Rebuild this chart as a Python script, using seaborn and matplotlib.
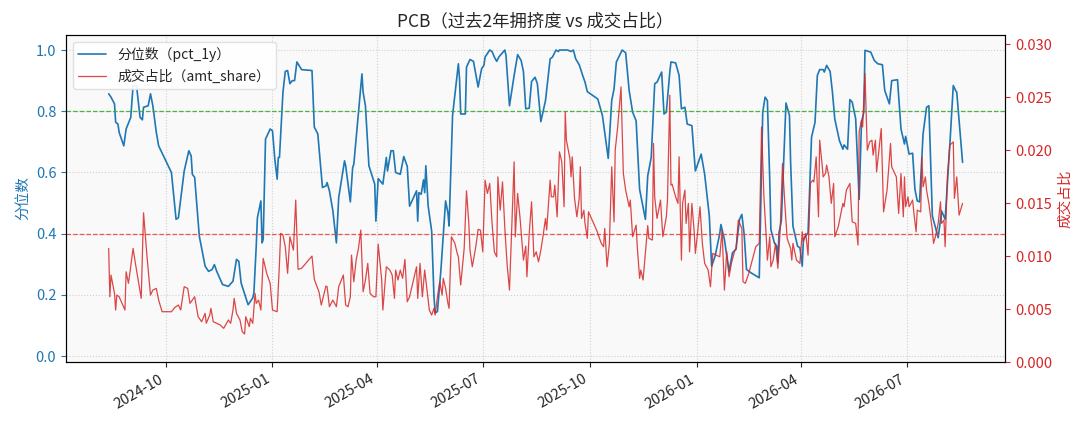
import matplotlib
matplotlib.use("Agg")
import matplotlib.pyplot as plt
import matplotlib.dates as mdates
import pandas as pd
import seaborn as sns

# days since 2024-08-13 for each reading
start_date = "2024-08-13"

pct_day = [0, 2, 5, 6, 8, 9, 13, 15, 19, 21, 24, 27, 29, 30, 34, 36, 38, 41, 43, 54,
           58, 60, 65, 69, 71, 72, 74, 78, 83, 86, 89, 91, 93, 98, 103, 107, 110, 112, 114, 119,
           120, 124, 125, 127, 128, 131, 132, 133, 135, 139, 141, 143, 145, 146, 147, 150, 152, 154, 156, 158,
           160, 162, 163, 166, 175, 177, 180, 184, 187, 188, 190, 193, 196, 198, 203, 204, 208, 210, 211, 218,
           219, 221, 224, 229, 230, 232, 236, 239, 240, 243, 245, 247, 251, 254, 257, 259, 265, 266, 267, 269,
           271, 272, 273, 275, 278, 280, 281, 283, 286, 290, 292, 293, 296, 301, 302, 303, 307, 308, 311, 314,
           318, 321, 323, 324, 328, 330, 332, 334, 336, 341, 342, 345, 349, 352, 355, 357, 359, 362, 364, 367,
           369, 372, 376, 380, 382, 385, 387, 388, 395, 398, 400, 402, 405, 408, 410, 412, 421, 425, 430, 433,
           435, 437, 442, 445, 448, 451, 454, 457, 462, 464, 467, 470, 472, 476, 478, 480, 483, 484, 488, 491,
           493, 496, 498, 502, 505, 510, 513, 517, 519, 522, 526, 527, 530, 534, 537, 540, 543, 545, 547, 549,
           553, 560, 563, 565, 567, 569, 570, 573, 575, 576, 577, 579, 581, 583, 586, 587, 589, 593, 595, 597,
           598, 602, 605, 608, 610, 612, 615, 616, 618, 621, 623, 625, 629, 632, 633, 636, 638, 640, 643, 646,
           648, 650, 651, 656, 659, 662, 666, 668, 672, 674, 679, 682, 685, 686, 689, 692, 694, 696, 698, 701,
           704, 706, 709, 714, 717, 720, 724, 727, 729, 730, 735]
pct_1y = [0.857, 0.846, 0.824, 0.764, 0.758, 0.731, 0.687, 0.742, 0.780, 0.884, 0.882, 0.780, 0.772, 0.813, 0.818, 0.857, 0.818, 0.731, 0.687, 0.600,
          0.447, 0.452, 0.605, 0.671, 0.654, 0.594, 0.584, 0.392, 0.294, 0.277, 0.283, 0.299, 0.277, 0.234, 0.228, 0.245, 0.316, 0.310, 0.239, 0.179,
          0.168, 0.190, 0.207, 0.359, 0.452, 0.507, 0.370, 0.381, 0.709, 0.742, 0.736, 0.644, 0.578, 0.649, 0.649, 0.862, 0.930, 0.933, 0.890, 0.900,
          0.900, 0.961, 0.955, 0.936, 0.933, 0.748, 0.726, 0.551, 0.556, 0.567, 0.540, 0.474, 0.370, 0.518, 0.638, 0.622, 0.504, 0.616, 0.627, 0.922,
          0.862, 0.818, 0.622, 0.562, 0.441, 0.580, 0.562, 0.649, 0.605, 0.671, 0.671, 0.600, 0.594, 0.652, 0.620, 0.490, 0.540, 0.441, 0.534, 0.529,
          0.576, 0.534, 0.622, 0.490, 0.409, 0.195, 0.141, 0.146, 0.283, 0.507, 0.469, 0.425, 0.786, 0.955, 0.906, 0.791, 0.791, 0.944, 0.969, 0.963,
          0.879, 0.939, 0.950, 0.977, 1.000, 0.995, 0.977, 0.963, 0.978, 1.000, 0.982, 0.818, 0.917, 0.985, 0.966, 0.930, 0.808, 0.810, 0.897, 0.911,
          0.890, 0.766, 0.835, 0.971, 0.977, 1.000, 0.995, 1.000, 1.000, 0.995, 1.000, 0.971, 0.952, 0.917, 0.895, 0.864, 0.840, 0.786, 0.646, 0.835,
          0.873, 0.961, 1.000, 0.991, 0.868, 0.797, 0.769, 0.545, 0.447, 0.589, 0.649, 0.890, 0.895, 0.928, 0.791, 0.797, 0.928, 0.961, 0.958, 0.917,
          0.808, 0.813, 0.758, 0.753, 0.605, 0.660, 0.594, 0.458, 0.294, 0.327, 0.400, 0.430, 0.381, 0.277, 0.338, 0.349, 0.447, 0.463, 0.398, 0.283,
          0.272, 0.256, 0.797, 0.846, 0.835, 0.578, 0.414, 0.370, 0.359, 0.305, 0.403, 0.441, 0.633, 0.827, 0.786, 0.633, 0.425, 0.359, 0.354, 0.294,
          0.381, 0.403, 0.715, 0.764, 0.917, 0.936, 0.936, 0.928, 0.950, 0.930, 0.862, 0.775, 0.704, 0.676, 0.690, 0.676, 0.838, 0.830, 0.775, 0.512,
          0.764, 0.797, 0.999, 0.993, 0.966, 0.955, 0.952, 0.868, 0.824, 0.900, 0.903, 0.742, 0.693, 0.718, 0.660, 0.663, 0.545, 0.507, 0.504, 0.726,
          0.813, 0.818, 0.458, 0.387, 0.474, 0.447, 0.687, 0.884, 0.868, 0.862, 0.633]

share_day = [0, 1, 2, 5, 6, 7, 9, 14, 15, 17, 18, 21, 23, 28, 30, 33, 36, 38, 41, 43,
             46, 54, 57, 60, 62, 65, 68, 70, 74, 77, 80, 83, 84, 87, 88, 90, 93, 96, 99, 103,
             105, 107, 108, 110, 113, 115, 117, 118, 121, 122, 124, 126, 127, 129, 131, 133, 136, 139, 141, 145,
             147, 148, 150, 152, 154, 156, 159, 161, 163, 166, 175, 177, 181, 183, 187, 188, 190, 193, 196, 198,
             202, 204, 206, 208, 209, 211, 213, 215, 217, 219, 221, 223, 225, 228, 230, 232, 235, 236, 239, 242,
             244, 246, 247, 249, 251, 253, 255, 257, 259, 261, 265, 266, 268, 270, 272, 274, 276, 278, 280, 281,
             283, 285, 287, 288, 290, 292, 293, 295, 298, 300, 301, 303, 305, 306, 308, 310, 311, 313, 316, 318,
             320, 322, 324, 326, 328, 330, 332, 334, 335, 337, 339, 341, 343, 345, 349, 350, 352, 354, 357, 359,
             360, 362, 364, 366, 368, 370, 372, 374, 376, 377, 380, 381, 383, 384, 386, 388, 390, 392, 393, 394,
             397, 398, 399, 401, 403, 405, 406, 407, 409, 410, 412, 413, 420, 424, 426, 427, 429, 431, 433, 435,
             436, 438, 441, 443, 445, 448, 449, 451, 454, 455, 457, 458, 460, 463, 464, 465, 468, 469, 470, 472,
             475, 477, 480, 481, 483, 484, 485, 488, 490, 491, 493, 494, 496, 497, 499, 500, 502, 504, 505, 507,
             509, 511, 513, 516, 518, 520, 526, 528, 530, 532, 534, 536, 539, 540, 542, 545, 546, 548, 551, 557,
             560, 562, 564, 566, 567, 569, 570, 572, 574, 576, 578, 580, 582, 584, 587, 588, 589, 592, 595, 597,
             598, 600, 602, 604, 606, 607, 609, 611, 612, 614, 615, 617, 618, 620, 622, 624, 625, 628, 630, 632,
             633, 635, 638, 640, 643, 645, 646, 648, 649, 651, 653, 655, 657, 658, 660, 661, 663, 665, 667, 670,
             673, 674, 678, 680, 682, 684, 685, 686, 688, 689, 692, 693, 695, 696, 699, 700, 701, 703, 704, 706,
             709, 710, 712, 714, 716, 717, 719, 720, 722, 724, 727, 728, 730, 732, 735]
amt_share = [0.01074, 0.00618, 0.00823, 0.00650, 0.00493, 0.00634, 0.00618, 0.00493, 0.00854, 0.00745, 0.00823, 0.01074, 0.00933, 0.00603, 0.01410, 0.00995, 0.00634, 0.00681, 0.00697, 0.00587,
             0.00477, 0.00477, 0.00518, 0.00540, 0.00493, 0.00713, 0.00697, 0.00556, 0.00618, 0.00430, 0.00383, 0.00462, 0.00368, 0.00446, 0.00509, 0.00383, 0.00368, 0.00352, 0.00320, 0.00399,
             0.00368, 0.00493, 0.00603, 0.00462, 0.00399, 0.00288, 0.00267, 0.00430, 0.00336, 0.00415, 0.00368, 0.00650, 0.00556, 0.00587, 0.00493, 0.00980, 0.00839, 0.00745, 0.00493, 0.00477,
             0.00933, 0.01216, 0.01200, 0.01090, 0.00839, 0.01184, 0.01058, 0.01530, 0.00877, 0.00886, 0.01002, 0.00782, 0.00665, 0.00540, 0.00719, 0.00713, 0.00524, 0.00587, 0.00524, 0.00713,
             0.00823, 0.00540, 0.00524, 0.00618, 0.01011, 0.00760, 0.00964, 0.01074, 0.01247, 0.00665, 0.00776, 0.00933, 0.00650, 0.00618, 0.00618, 0.01115, 0.00776, 0.00493, 0.00901, 0.00870,
             0.00823, 0.00603, 0.00870, 0.00776, 0.00870, 0.00792, 0.00971, 0.00571, 0.00618, 0.00713, 0.00901, 0.00603, 0.00933, 0.00618, 0.00870, 0.00681, 0.00493, 0.00446, 0.00509, 0.00446,
             0.00618, 0.00760, 0.00634, 0.00792, 0.00697, 0.00556, 0.00509, 0.01184, 0.01122, 0.01027, 0.00995, 0.00729, 0.00964, 0.01074, 0.01617, 0.01310, 0.01058, 0.00901, 0.01090, 0.01254,
             0.01247, 0.01042, 0.01718, 0.01593, 0.01687, 0.01310, 0.01042, 0.00995, 0.01749, 0.01435, 0.01702, 0.01263, 0.00917, 0.00681, 0.01891, 0.01184, 0.01593, 0.01372, 0.00964, 0.01096,
             0.00807, 0.01216, 0.01514, 0.00995, 0.01042, 0.00948, 0.01058, 0.01200, 0.01357, 0.01247, 0.01718, 0.01561, 0.01561, 0.01671, 0.01372, 0.01985, 0.01891, 0.01467, 0.02362, 0.02095,
             0.01923, 0.01749, 0.01938, 0.01546, 0.01372, 0.01546, 0.01844, 0.01357, 0.01435, 0.01310, 0.01169, 0.01419, 0.01247, 0.01122, 0.01090, 0.01263, 0.00901, 0.01122, 0.01844, 0.01325,
             0.02001, 0.02205, 0.02598, 0.01781, 0.01624, 0.01467, 0.01530, 0.01184, 0.01294, 0.01090, 0.00792, 0.00870, 0.00776, 0.01153, 0.01290, 0.01169, 0.01153, 0.02064, 0.01561, 0.01357,
             0.01530, 0.01184, 0.01372, 0.01530, 0.02519, 0.01671, 0.01680, 0.01561, 0.01499, 0.01938, 0.00964, 0.01499, 0.01624, 0.01310, 0.01499, 0.01042, 0.01499, 0.01231, 0.01027, 0.01231,
             0.01467, 0.01122, 0.00933, 0.00870, 0.00713, 0.01027, 0.00995, 0.01247, 0.00681, 0.01042, 0.00807, 0.00933, 0.01058, 0.01074, 0.01341, 0.01263, 0.00760, 0.00745, 0.00839, 0.01090,
             0.01122, 0.02220, 0.01561, 0.01184, 0.00964, 0.01184, 0.00901, 0.00964, 0.01122, 0.00886, 0.01247, 0.01876, 0.01499, 0.01169, 0.01074, 0.00964, 0.01122, 0.00964, 0.00933, 0.01231,
             0.01137, 0.01216, 0.01011, 0.01687, 0.01718, 0.01702, 0.01938, 0.01372, 0.02095, 0.01876, 0.01749, 0.01781, 0.01860, 0.01749, 0.01499, 0.01687, 0.01184, 0.01278, 0.01388, 0.01499,
             0.01467, 0.01624, 0.01687, 0.01325, 0.01310, 0.01106, 0.02173, 0.02284, 0.02220, 0.02724, 0.02001, 0.02079, 0.02095, 0.01954, 0.02095, 0.01796, 0.02001, 0.02205, 0.01419, 0.01624,
             0.02064, 0.01844, 0.01749, 0.01404, 0.01781, 0.01372, 0.01749, 0.01467, 0.01561, 0.01467, 0.01530, 0.01419, 0.01231, 0.01435, 0.01419, 0.01938, 0.01655, 0.01749, 0.01624, 0.01499,
             0.01247, 0.01122, 0.01200, 0.01310, 0.01514, 0.01310, 0.01341, 0.01090, 0.01765, 0.02048, 0.02079, 0.01546, 0.01749, 0.01388, 0.01499]

pct_threshold_hi = 0.8
pct_threshold_lo = 0.4

start = pd.Timestamp(start_date)
pct_df = pd.DataFrame({"date": start + pd.to_timedelta(pct_day, unit="D"), "pct_1y": pct_1y})
share_df = pd.DataFrame({"date": start + pd.to_timedelta(share_day, unit="D"), "amt_share": amt_share})

sns.set_style("ticks")
plt.rcParams["font.family"] = ["Noto Sans CJK SC", "DejaVu Sans"]
plt.rcParams["axes.unicode_minus"] = False

blue = "#1f77b4"
red = "#d62728"

fig, ax = plt.subplots(figsize=(10.89, 4.29), dpi=100)
fig.subplots_adjust(left=0.0606, right=0.9231, bottom=0.1555, top=0.9191)
ax.set_facecolor("#f9f9f9")

sns.lineplot(data=pct_df, x="date", y="pct_1y", ax=ax, color=blue, linewidth=1.2,
             label="分位数（pct_1y）", legend=False)
ax.axhline(pct_threshold_hi, color="#33b033", linestyle="--", linewidth=0.9, alpha=0.9, zorder=3)
ax.axhline(pct_threshold_lo, color="#e8403f", linestyle="--", linewidth=0.9, alpha=0.85, zorder=3)
ax.set_ylim(-0.02, 1.05)
ax.set_ylabel("分位数", color=blue, fontsize=10.5)
ax.set_xlabel("")
ax.tick_params(axis="y", colors=blue, labelsize=10.5)
ax.tick_params(axis="x", labelsize=10.5)
ax.grid(True, linestyle=":", linewidth=0.8, color="#cccccc", alpha=0.9)

ax2 = ax.twinx()
sns.lineplot(data=share_df, x="date", y="amt_share", ax=ax2, color=red, linewidth=0.9,
             alpha=0.85, label="成交占比（amt_share）", legend=False)
ax2.set_ylim(0, 0.0309)
ax2.set_ylabel("成交占比", color=red, fontsize=10.5)
ax2.tick_params(axis="y", colors=red, labelsize=10.5)
for sp in ax2.spines.values():
    sp.set_color("black")

ax.xaxis.set_major_locator(mdates.MonthLocator(bymonth=[1, 4, 7, 10]))
ax.xaxis.set_major_formatter(mdates.DateFormatter("%Y-%m"))
for lbl in ax.get_xticklabels():
    lbl.set_rotation(30)
    lbl.set_ha("right")

handles = ax.get_lines()[:1] + ax2.get_lines()[:1]
ax.legend(handles, [h.get_label() for h in handles], loc="upper left", fontsize=10,
          frameon=True, facecolor="white", edgecolor="#dddddd", framealpha=0.9)

ax.set_title("PCB（过去2年拥挤度 vs 成交占比）", fontsize=12.5)

fig.savefig("out.png", dpi=100)
